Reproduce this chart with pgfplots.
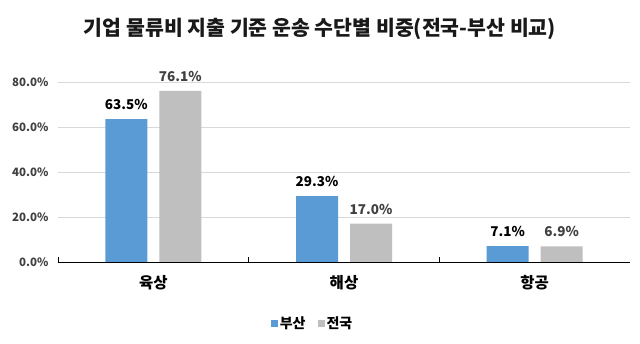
\documentclass[border=0pt]{standalone}
\usepackage{pgfplots}
\pgfplotsset{compat=1.18}
\usepackage{fontspec}
\setmainfont{Noto Sans CJK KR}
\definecolor{busan}{HTML}{5B9BD5}
\definecolor{nat}{HTML}{BFBFBF}
\definecolor{gridc}{HTML}{D9D9D9}
\definecolor{natlab}{HTML}{404040}
\begin{document}
\begin{tikzpicture}
\useasboundingbox (0,0) rectangle (640pt,344pt);
\fill[white] (0,0) rectangle (640pt,344pt);
\node[font=\bfseries\fontsize{20.5}{23}\selectfont, text=black!90] at (320pt,315pt) {기업 물류비 지출 기준 운송 수단별 비중(전국-부산 비교)};
\begin{axis}[
  at={(58pt,82pt)}, anchor=south west, scale only axis,
  width=572pt, height=180pt,
  xmin=-0.5, xmax=2.5, ymin=0, ymax=80,
  ybar, bar width=42pt,
  axis x line*=bottom, axis y line*=left,
  y axis line style={draw=none},
  x axis line style={black, line width=0.9pt},
  xtick={0,1,2}, xticklabels={육상,해상,항공},
  extra x ticks={-0.5,0.5,1.5}, extra x tick labels={},
  extra x tick style={major tick length=5pt, tick style={black, line width=0.8pt}, xtick pos=bottom, xtick align=inside, grid=none},
  major tick length=0pt,
  xticklabel style={font=\bfseries\fontsize{15.5}{17}\selectfont, yshift=-10pt},
  ytick={0,20,40,60,80},
  yticklabels={0.0\%,20.0\%,40.0\%,60.0\%,80.0\%},
  yticklabel style={font=\bfseries\fontsize{11.5}{13}\selectfont, text=natlab, xshift=-6pt},
  ymajorgrids, grid style={gridc, line width=0.8pt},
  nodes near coords={\pgfmathprintnumber[fixed,fixed zerofill,precision=1,assume math mode=true]{\pgfplotspointmeta}\%},
  every node near coord/.append style={font=\bfseries\fontsize{13.5}{15}\selectfont, yshift=6pt},
  legend style={draw=none, at={(0.445,-0.339)}, anchor=center, legend columns=2,
    font=\bfseries\fontsize{14}{16}\selectfont, /tikz/every even column/.append style={column sep=10pt}},
  legend image code/.code={\fill[#1] (1pt,-4pt) rectangle (8pt,3pt);},
  clip=false,
]
\addplot[fill=busan, draw=none, bar shift=-27pt, every node near coord/.append style={text=black}] coordinates {(0,63.5) (1,29.3) (2,7.1)};
\addplot[fill=nat, draw=none, bar shift=27pt, every node near coord/.append style={text=natlab}] coordinates {(0,76.1) (1,17.0) (2,6.9)};
\legend{부산,전국}
\end{axis}
\end{tikzpicture}
\end{document}
